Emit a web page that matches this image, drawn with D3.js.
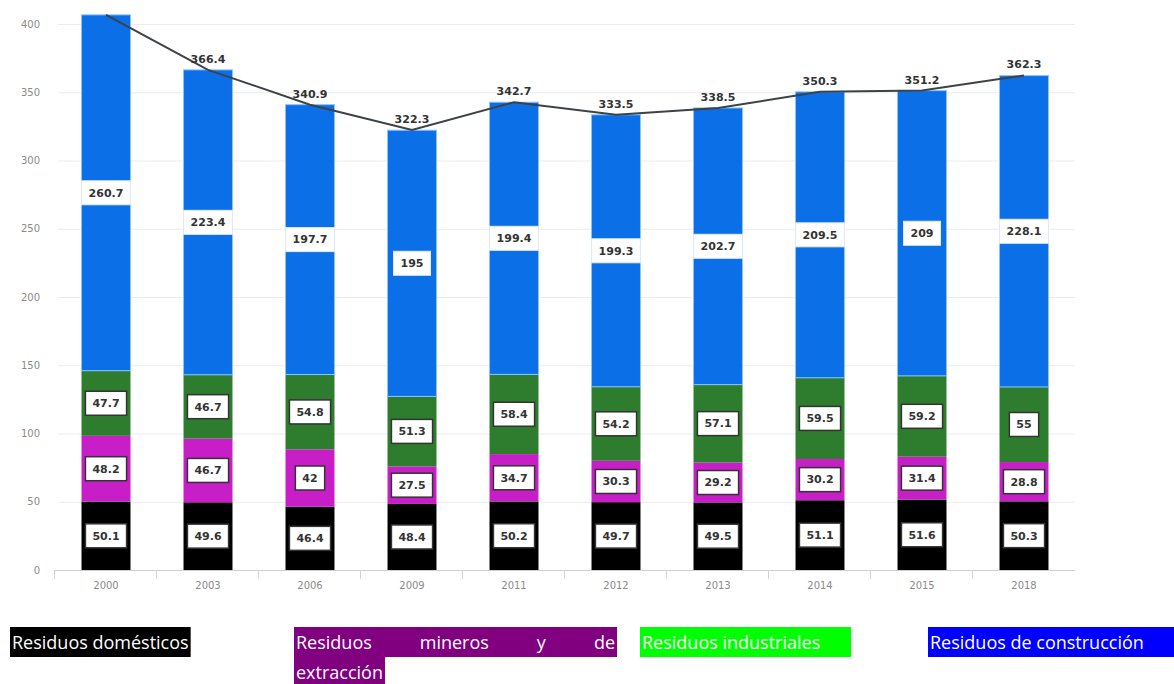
<!DOCTYPE html>
<html>
<head>
<meta charset="utf-8">
<script src="https://cdn.jsdelivr.net/npm/d3@7"></script>
<style>
  body { margin: 0; background: #fff; }
  svg { display: block; }
</style>
</head>
<body>
<div id="chart"></div>
<script>
// Stacked waste bars (Mt) with a total line on top.
var years = ['2000', '2003', '2006', '2009', '2011', '2012', '2013', '2014', '2015', '2018'];
var domesticos = [50.1, 49.6, 46.4, 48.4, 50.2, 49.7, 49.5, 51.1, 51.6, 50.3];
var mineros = [48.2, 46.7, 42, 27.5, 34.7, 30.3, 29.2, 30.2, 31.4, 28.8];
var industriales = [47.7, 46.7, 54.8, 51.3, 58.4, 54.2, 57.1, 59.5, 59.2, 55];
var construccion = [260.7, 223.4, 197.7, 195, 199.4, 199.3, 202.7, 209.5, 209, 228.1];
var totales = [406.7, 366.4, 340.9, 322.3, 342.7, 333.5, 338.5, 350.3, 351.2, 362.3];
var yTicks = [0, 50, 100, 150, 200, 250, 300, 350, 400];
var legendLabels = ['Residuos domésticos', 'Residuos mineros y de extracción',
                    'Residuos industriales', 'Residuos de construcción'];

var W = 1174, H = 684;
var margin = {left: 55, right: 99, top: 24, bottom: 114};
var barColors = ['#000000', '#c81ec8', '#2e7d2e', '#0b6fe8'];
var legendColors = ['#000000', '#800080', '#00ff00', '#0000ff'];
var series = [domesticos, mineros, industriales, construccion];

var svg = d3.select('#chart').append('svg')
    .attr('width', W)
    .attr('height', H);

var x = d3.scaleBand()
    .domain(years)
    .range([margin.left, W - margin.right])
    .paddingInner(0.52)
    .paddingOuter(0.26);

var y = d3.scaleLinear()
    .domain([0, 400])
    .range([H - margin.bottom, margin.top]);

// grid + y labels
svg.append('g')
    .selectAll('line')
    .data(yTicks)
    .enter().append('line')
    .attr('x1', margin.left + 3)
    .attr('x2', W - margin.right)
    .attr('y1', function(d) { return y(d) + 0.5; })
    .attr('y2', function(d) { return y(d) + 0.5; })
    .attr('stroke', '#ececec')
    .attr('stroke-width', 1);

svg.append('g')
    .selectAll('text')
    .data(yTicks)
    .enter().append('text')
    .attr('x', 40)
    .attr('y', function(d) { return y(d); })
    .attr('dy', '0.35em')
    .attr('text-anchor', 'end')
    .style('font-family', 'DejaVu Sans, sans-serif')
    .style('font-size', '10px')
    .style('fill', '#8a8a8a')
    .text(function(d) { return d; });

// stacked data
var rows = years.map(function(yr, i) {
    var r = {year: yr};
    series.forEach(function(s, k) { r['s' + k] = s[i]; });
    return r;
});
var stack = d3.stack().keys(['s0', 's1', 's2', 's3'])(rows);

var layer = svg.append('g').selectAll('g')
    .data(stack)
    .enter().append('g')
    .attr('fill', function(d, k) { return barColors[k]; });

layer.selectAll('rect')
    .data(function(d) { return d; })
    .enter().append('rect')
    .attr('x', function(d) { return x(d.data.year); })
    .attr('width', x.bandwidth())
    .attr('y', function(d) { return y(d[1]); })
    .attr('height', function(d) { return y(d[0]) - y(d[1]); })
    .attr('stroke', function() { return this.parentNode.__data__.index === 3 ? '#8cc4ff' : 'none'; })
    .attr('stroke-width', 1);

// x axis
var axisY = y(0);
svg.append('line')
    .attr('x1', margin.left).attr('x2', W - margin.right)
    .attr('y1', axisY + 0.5).attr('y2', axisY + 0.5)
    .attr('stroke', '#cfcfcf');

svg.append('g').selectAll('line')
    .data(years)
    .enter().append('line')
    .attr('x1', function(d) { return x(d) - x.step() * 0.26 - 0.5; })
    .attr('x2', function(d) { return x(d) - x.step() * 0.26 - 0.5; })
    .attr('y1', axisY)
    .attr('y2', axisY + 9)
    .attr('stroke', '#d4d4d4');

svg.append('g').selectAll('text')
    .data(years)
    .enter().append('text')
    .attr('x', function(d) { return x(d) + x.bandwidth() / 2; })
    .attr('y', axisY + 19)
    .attr('text-anchor', 'middle')
    .style('font-family', 'DejaVu Sans, sans-serif')
    .style('font-size', '10px')
    .style('fill', '#8a8a8a')
    .text(function(d) { return d; });

// total line
var line = d3.line()
    .x(function(d, i) { return x(years[i]) + x.bandwidth() / 2; })
    .y(function(d) { return y(d); });

svg.append('path')
    .datum(totales)
    .attr('d', line)
    .attr('fill', 'none')
    .attr('stroke', '#3d4247')
    .attr('stroke-width', 2);

var labelFont = 'DejaVu Sans, sans-serif';

// totals above bars (the first one falls outside the plot, as in the source)
svg.append('g')
    .selectAll('text')
    .data(totales.map(function(d, i) { return {v: d, i: i}; })
        .filter(function(d) { return y(d.v) - 18 > 0; }))
    .enter().append('text')
    .attr('x', function(d) { return x(years[d.i]) + x.bandwidth() / 2; })
    .attr('y', function(d) { return y(d.v) - 7; })
    .attr('text-anchor', 'middle')
    .style('font-family', labelFont)
    .style('font-size', '11px')
    .style('font-weight', 'bold')
    .style('fill', '#333')
    .text(function(d) { return d.v; });

// segment labels in boxes
stack.forEach(function(s, k) {
    var g = svg.append('g');
    s.forEach(function(d) {
        var cx = x(d.data.year) + x.bandwidth() / 2;
        var cy = (y(d[0]) + y(d[1])) / 2;
        var box = g.append('rect');
        var t = g.append('text')
            .attr('x', cx)
            .attr('y', cy)
            .attr('dy', '0.35em')
            .attr('text-anchor', 'middle')
            .style('font-family', labelFont)
            .style('font-size', '11px')
            .style('font-weight', 'bold')
            .style('fill', '#333')
            .text(series[k][years.indexOf(d.data.year)]);
        var w = t.node().getComputedTextLength() + 14;
        box.attr('x', cx - w / 2)
            .attr('y', cy - 12)
            .attr('width', w)
            .attr('height', 24)
            .attr('fill', '#fff')
            .attr('stroke', k === 3 ? '#e4ecf5' : '#333')
            .attr('stroke-width', k === 3 ? 1 : 1.5);
    });
});

// legend (word-style highlighted text)
var legendX = [10, 294, 640, 928];
var legendW = [178, 323, 211, 246];
var legendTop = 627, rowH = 30, fontSize = 18;
var lg = svg.append('g')
    .style('font-family', 'Open Sans, sans-serif')
    .style('font-size', fontSize + 'px');

function measure(str) {
    var t = lg.append('text').text(str);
    var w = t.node().getComputedTextLength();
    t.remove();
    return w;
}

function highlight(xx, yy, str, color, bw) {
    var w = Math.max(measure(str) + 4, bw || 0);
    lg.append('rect').attr('x', xx).attr('y', yy).attr('width', w).attr('height', rowH)
        .attr('fill', color);
    lg.append('text').attr('x', xx + 2).attr('y', yy + 22).attr('fill', '#fff').text(str);
}

highlight(legendX[0], legendTop, legendLabels[0], legendColors[0], legendW[0]);
highlight(legendX[2], legendTop, legendLabels[2], legendColors[2], legendW[2]);
highlight(legendX[3], legendTop, legendLabels[3], legendColors[3], legendW[3]);

// justified two-line legend item
(function() {
    var words = legendLabels[1].split(' ');
    var first = words.slice(0, 4), colW = legendW[1];
    lg.append('rect').attr('x', legendX[1]).attr('y', legendTop).attr('width', colW).attr('height', rowH)
        .attr('fill', legendColors[1]);
    var widths = first.map(measure);
    var gap = (colW - 4 - d3.sum(widths)) / (first.length - 1);
    var cx = legendX[1] + 2;
    first.forEach(function(wd, i) {
        lg.append('text').attr('x', cx).attr('y', legendTop + 22).attr('fill', '#fff').text(wd);
        cx += widths[i] + gap;
    });
    highlight(legendX[1], legendTop + rowH, words[4], legendColors[1]);
})();
</script>
</body>
</html>
